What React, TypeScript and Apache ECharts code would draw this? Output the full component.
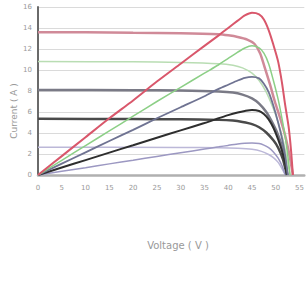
import React, { useEffect, useRef } from "react";
import * as echarts from "echarts";

// Tick settings
const xTicks = { min: 0, max: 56, interval: 5 };
const yTicks = { min: 0, max: 16, interval: 2 };

// I-V curves [voltage, current]
const ivRed = [[0,13.6],[10,13.6],[20,13.55],[30,13.5],[38,13.4],[40,13.3],[42,13.15],[44,12.9],[45.5,12.5],[46.7,11.6],[47.7,10.2],[48.8,8.6],[49.8,7.0],[51,5.3],[52,3.7],[53,1.6],[53.6,0]];
const ivGreen = [[0,10.8],[20,10.78],[30,10.72],[38,10.6],[41,10.45],[43,10.2],[45,9.7],[46.5,9.0],[48,7.9],[49.5,6.3],[50.5,5.0],[51.5,3.4],[52.3,1.7],[53,0]];
const ivSlate = [[0,8.1],[20,8.08],[30,8.04],[38,7.95],[41,7.85],[43,7.65],[45,7.3],[46.5,6.8],[48,6.0],[49.5,4.8],[50.5,3.8],[51.5,2.4],[52.5,0]];
const ivBlack = [[0,5.35],[20,5.33],[30,5.3],[38,5.25],[41,5.18],[43,5.05],[45,4.85],[46.5,4.55],[48,4.05],[49.5,3.3],[50.5,2.6],[51.5,1.5],[52.3,0]];
const ivLilac = [[0,2.65],[30,2.62],[38,2.6],[42,2.55],[45,2.45],[47,2.25],[48.5,1.95],[49.5,1.65],[50.5,1.2],[51.3,0.6],[52,0]];

// P-V curves [voltage, value in axis units]
const pvRed = [[0,0],[5,1.8],[10,3.6],[15,5.4],[20,7.1],[25,8.9],[30,10.6],[35,12.3],[38,13.3],[40,14.0],[42,14.7],[43.5,15.2],[45,15.45],[46.5,15.3],[47.5,14.8],[48.5,13.8],[49.5,12.4],[50.5,10.8],[51.3,8.8],[52,6.6],[52.7,4.6],[53.2,2.4],[53.6,0]];
const pvGreen = [[0,0],[5,1.4],[10,2.8],[15,4.2],[20,5.6],[25,7.0],[30,8.35],[35,9.7],[38,10.5],[40,11.1],[42,11.7],[43.5,12.1],[45,12.3],[46.5,12.1],[47.5,11.6],[48.5,10.6],[49.5,9.0],[50.5,7.2],[51.3,5.4],[52,3.6],[52.6,1.6],[53,0]];
const pvSlate = [[0,0],[5,1.08],[10,2.16],[15,3.24],[20,4.3],[25,5.4],[30,6.45],[35,7.5],[38,8.2],[40,8.6],[42,9.0],[43.5,9.25],[45,9.35],[46.5,9.2],[47.5,8.7],[48.5,7.9],[49.5,6.6],[50.5,5.0],[51.3,3.5],[52,1.8],[52.5,0]];
const pvBlack = [[0,0],[5,0.71],[10,1.42],[15,2.13],[20,2.84],[25,3.55],[30,4.25],[35,4.95],[38,5.4],[40,5.7],[42,5.95],[43.5,6.1],[45,6.2],[46.5,6.1],[47.5,5.8],[48.5,5.3],[49.5,4.5],[50.5,3.4],[51.3,2.3],[52,1.0],[52.3,0]];
const pvLilac = [[0,0],[5,0.35],[10,0.7],[15,1.06],[20,1.41],[25,1.77],[30,2.12],[35,2.47],[38,2.68],[40,2.82],[42,2.95],[43.5,3.02],[45,3.05],[46.5,3.0],[47.5,2.85],[48.5,2.6],[49.5,2.2],[50.5,1.6],[51.3,0.9],[52,0]];

const xTitle = "Voltage ( V )";
const yTitle = "Current ( A )";

function line(data: number[][], color: string, width: number) {
  return {
    type: "line",
    data,
    showSymbol: false,
    smooth: 0.25,
    lineStyle: { color, width },
    itemStyle: { color },
    silent: true,
  };
}

export default function App() {
  const ref = useRef<HTMLDivElement>(null);
  useEffect(() => {
    const chart = echarts.init(ref.current!, null, { renderer: "svg" });
    chart.setOption({
      animation: false,
      grid: { left: 38, right: 0, top: 7, bottom: 110 },
      textStyle: { fontFamily: "DejaVu Sans" },
      xAxis: {
        type: "value",
        min: xTicks.min,
        max: xTicks.max,
        interval: xTicks.interval,
        axisLine: { show: true, lineStyle: { color: "#b0b0b0", width: 2.5 } },
        axisTick: { show: false },
        splitLine: { show: false },
        axisLabel: { color: "#999", fontSize: 7, margin: 9, showMaxLabel: false },
      },
      yAxis: {
        type: "value",
        min: yTicks.min,
        max: yTicks.max,
        interval: yTicks.interval,
        axisLine: { show: true, lineStyle: { color: "#6a6a6a", width: 2 } },
        axisTick: { show: false },
        splitLine: { show: true, lineStyle: { color: "#dadada", width: 1 } },
        axisLabel: { color: "#999", fontSize: 7, margin: 6 },
      },
      graphic: [
        {
          type: "text",
          x: 178,
          y: 245,
          style: {
            text: xTitle,
            fill: "#999",
            fontSize: 10,
            fontFamily: "DejaVu Sans",
            align: "center",
            verticalAlign: "middle",
          },
        },
        {
          type: "text",
          x: 14,
          y: 111,
          rotation: Math.PI / 2,
          style: {
            text: yTitle,
            fill: "#999",
            fontSize: 9,
            fontFamily: "DejaVu Sans",
            align: "center",
            verticalAlign: "middle",
          },
        },
      ],
      series: [
        line(ivLilac, "#bcb8d8", 1.5),
        line(ivBlack, "#4a4a4a", 2.5),
        line(ivSlate, "#7a7a86", 2.5),
        line(ivGreen, "#b9ddb3", 1.5),
        line(ivRed, "#d08a98", 2.5),
        line(pvLilac, "#9c98c2", 1.5),
        line(pvBlack, "#2e2e2e", 2),
        line(pvSlate, "#6f7392", 1.8),
        line(pvGreen, "#8ccf86", 1.5),
        line(pvRed, "#d9576b", 2),
      ],
    });
    return () => chart.dispose();
  }, []);
  return (
    <div
      ref={ref}
      style={{ position: "absolute", left: 0, top: 0, width: 307, height: 285 }}
    />
  );
}
